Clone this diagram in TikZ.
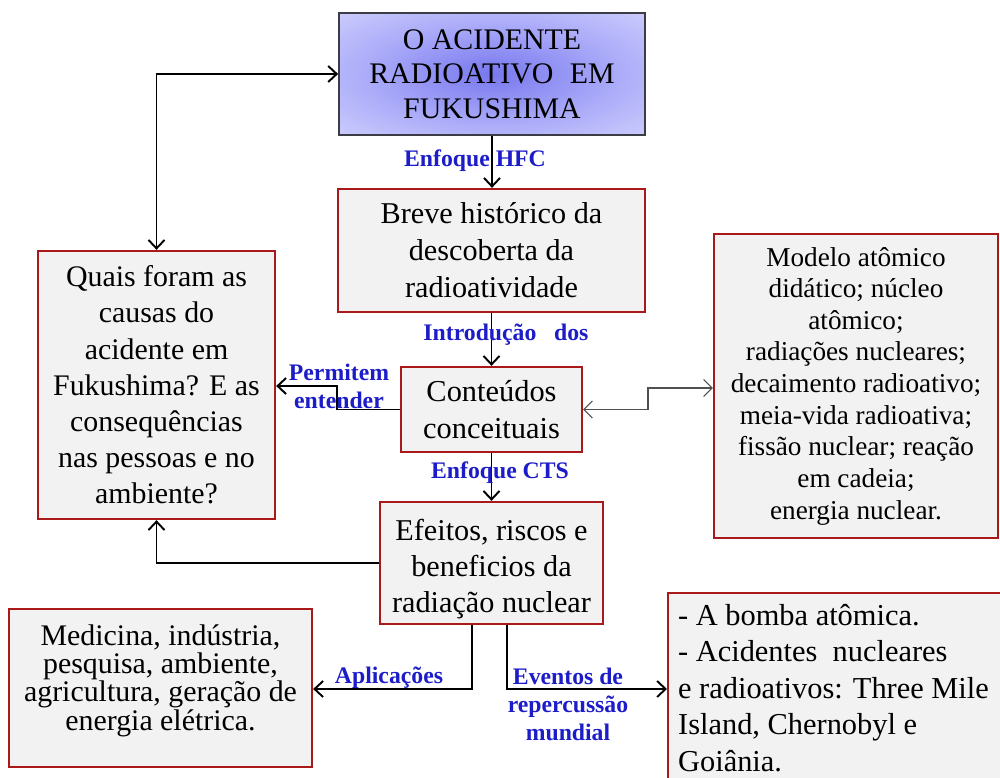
\documentclass[tikz,border=0pt]{standalone}
\usepackage{fontspec}
\setmainfont{Liberation Serif}
\usetikzlibrary{arrows.meta,shadings}
\definecolor{boxred}{RGB}{170,25,25}
\definecolor{boxfill}{RGB}{242,242,242}
\definecolor{labblue}{RGB}{28,28,200}
\definecolor{topin}{RGB}{120,120,238}
\definecolor{topmid}{RGB}{170,170,249}
\definecolor{topout}{RGB}{226,226,255}
\definecolor{topedge}{RGB}{60,60,70}
\definecolor{thinline}{RGB}{80,80,80}
\pgfdeclareradialshading{topshade}{\pgfpoint{0bp}{0bp}}{color(0bp)=(topin); color(20bp)=(topmid); color(46bp)=(topout); color(75bp)=(topout)}
\tikzset{
  txtsize/.style 2 args={font=\fontsize{#1}{#2}\selectfont},
  box/.style={draw=boxred, fill=boxfill, line width=1.3pt, align=center, inner sep=0pt},
  topbox/.style={draw=topedge, line width=1pt, shading=topshade, align=center, inner sep=0pt},
  lab/.style={text=labblue, font=\fontsize{13.5}{15.9}\selectfont\bfseries, align=center, inner sep=0pt},
  conn/.style={line width=1.1pt, -{Straight Barb[length=1.7mm,width=3.2mm]}},
  connboth/.style={line width=1.1pt, {Straight Barb[length=1.7mm,width=3.2mm]}-{Straight Barb[length=1.7mm,width=3.2mm]}},
  thinconn/.style={draw=thinline, line width=0.6pt, {Straight Barb[length=1.7mm,width=3.4mm]}-{Straight Barb[length=1.7mm,width=3.4mm]}}
}
\begin{document}
\begin{tikzpicture}[x=0.2mm,y=-0.2mm]
\useasboundingbox (0,0) rectangle (1000,778);
\clip (0,0) rectangle (1000,778);

\node[topbox, txtsize={17}{19.5}, minimum width=61.2mm, minimum height=24.4mm] (top) at (492,74)
  {O ACIDENTE\\RADIOATIVO\hspace{0.3em} EM\\FUKUSHIMA};
\node[box, txtsize={17.2}{21}, minimum width=61.4mm, minimum height=24.6mm] (breve) at (491.5,250.5)
  {Breve histórico da\\descoberta da\\radioatividade};
\node[box, txtsize={17.3}{21}, minimum width=36.2mm, minimum height=17mm] (cont) at (491.5,409.5)
  {Conteúdos\\conceituais};
\node[box, txtsize={17}{20.6}, minimum width=47.4mm, minimum height=53.6mm] (q) at (156.5,385)
  {Quais foram as\\causas do\\acidente em\\Fukushima? E as\\consequências\\nas pessoas e no\\ambiente?};
\node[box, txtsize={15.5}{18}, minimum width=56.8mm, minimum height=60.8mm] (mod) at (856,386)
  {Modelo atômico\\didático; núcleo\\atômico;\\radiações nucleares;\\decaimento radioativo;\\meia-vida radioativa;\\fissão nuclear; reação\\em cadeia;\\energia nuclear.};
\node[box, txtsize={17.2}{20.4}, minimum width=44.6mm, minimum height=24.4mm] (ef) at (491.5,563)
  {\rule{0pt}{19pt}Efeitos, riscos e\\beneficios da\\radiação nuclear};
\node[box, txtsize={17}{16}, text depth=4.2mm, minimum width=60.6mm, minimum height=31.6mm] (med) at (160.5,688)
  {Medicina, indústria,\\pesquisa, ambiente,\\agricultura, geração de\\energia elétrica.};
\node[box, txtsize={17.3}{20.8}, anchor=north west, text width=67mm, align=flush left, inner xsep=2mm, inner ysep=2.2mm] (ev) at (667,592)
  {\spaceskip=0pt \xspaceskip=0pt - A bomba atômica.\\- Acidentes\hspace{0.25em} nucleares\\e radioativos: Three Mile\\Island, Chernobyl e\\Goiânia.};

\coordinate (pb) at (337,386);
\coordinate (pm) at (648,388);
\coordinate (a1) at (472,689);
\coordinate (a2) at (507,689);

\draw[connboth] (q.north) |- (top.west);
\draw[conn] (top.south) -- (top.south |- breve.north);
\draw[conn] (breve.south) -- (breve.south |- cont.north);
\draw[conn] (cont.south) -- (cont.south |- ef.north);
\draw[conn] (cont.west) -| (pb) -- (q.east |- pb);
\draw[thinconn] (cont.east) -| (pm) -- (mod.west |- pm);
\draw[conn] (ef.west) -| (q.south);
\draw[conn] (ef.south -| a1) -- (a1) -- (med.east |- a1);
\draw[conn] (ef.south -| a2) -- (a2) -- (ev.west |- a2);

\node[lab] (lhfc) at (475,161) {Enfoque HFC};
\node[lab] (lintro) at (506,335) {Introdução\hspace{0.5em} dos};
\node[lab] (lperm) at (339,386) {Permitem\\entender};
\node[lab] (lcts) at (500,473) {Enfoque CTS};
\node[lab] (lapl) at (389,678) {Aplicações};
\node[lab] (lev) at (568,704) {Eventos de\\repercussão\\mundial};
\end{tikzpicture}
\end{document}
